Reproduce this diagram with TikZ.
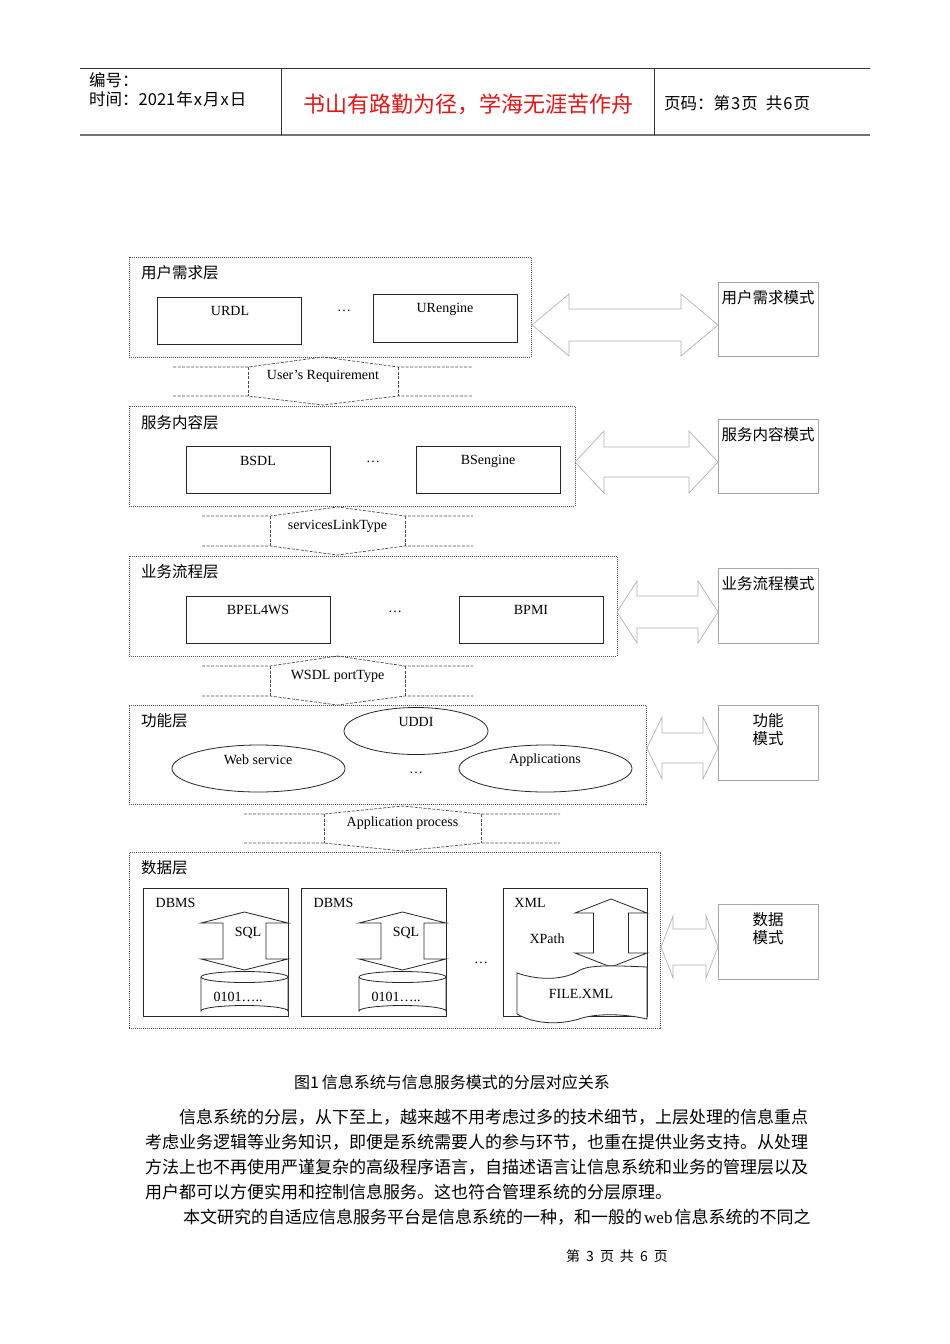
\documentclass[tikz,border=0pt]{standalone}
\usepackage{fontspec}
\setmainfont{Liberation Serif}
\newfontfamily\cjk{Noto Sans CJK SC}
\usetikzlibrary{shapes.geometric}
\newcommand\fsz[1]{\fontsize{#1}{#1}\selectfont}
% double arrow: xl xr yc headlen headhalf shafthalf
\newcommand\dblarr[6]{%
  \draw[bigarrow] (#1,#3) -- ({#1+#4},{#3-#5}) -- ({#1+#4},{#3-#6}) -- ({#2-#4},{#3-#6}) -- ({#2-#4},{#3-#5}) -- (#2,#3)
   -- ({#2-#4},{#3+#5}) -- ({#2-#4},{#3+#6}) -- ({#1+#4},{#3+#6}) -- ({#1+#4},{#3+#5}) -- cycle;}
% link shape: x1 xa xb x2 ytop ybot peak dip text
\newcommand\linkshape[9]{%
  \draw[link] (#1,#5) -- (#2,#5) -- ({(#2+#3)/2},#7) -- (#3,#5) -- (#4,#5);
  \draw[link] (#1,#6) -- (#2,#6) -- ({(#2+#3)/2},#8) -- (#3,#6) -- (#4,#6);
  \draw[link] (#2,#5) -- (#2,#6) (#3,#5) -- (#3,#6);
  \node[lat] at ({(#2+#3)/2},{(#5+#6)/2-5}) {#9};}
% up-down arrow: cx ytop ybase1 ybase2 ybot headhalf shafthalf
\newcommand\updown[7]{%
  \draw[solid box, fill=white] (#1,#2) -- ({#1+#6},#3) -- ({#1+#7},#3) -- ({#1+#7},#4) -- ({#1+#6},#4) -- (#1,#5)
   -- ({#1-#6},#4) -- ({#1-#7},#4) -- ({#1-#7},#3) -- ({#1-#6},#3) -- cycle;}
% cylinder: xl xr ytop ybot ry
\newcommand\cyl[5]{%
  \draw[solid box, fill=white] (#1,#3) -- (#1,#4) arc[start angle=180,end angle=360,x radius={(#2-#1)/2},y radius=#5] -- (#2,#3);
  \draw[solid box, fill=white] ({(#1+#2)/2},#3) ellipse [x radius={(#2-#1)/2}, y radius=#5];}
\tikzset{
  layer/.style={draw=black!70, line width=0.9pt, dash pattern=on 1pt off 1pt, inner sep=0pt, outer sep=0pt},
  solid box/.style={draw=black!85, line width=0.8pt},
  inbox/.style={solid box, inner sep=0pt, outer sep=0pt},
  modebox/.style={draw=black!35, line width=0.8pt, inner sep=0pt, outer sep=0pt},
  bigarrow/.style={draw=black!30, line width=0.7pt},
  link/.style={draw=black!70, line width=0.7pt, dash pattern=on 3pt off 1.5pt},
  lat/.style={font=\fsz{14}, inner sep=0pt},
  zh/.style={font=\cjk\fsz{15.5}, inner sep=0pt},
  zhtwo/.style={font=\cjk\fontsize{15.5}{18}\selectfont, inner sep=0pt, align=center},
  ell/.style={ellipse, solid box, inner sep=0pt, outer sep=0pt},
  hdr/.style={font=\cjk\fsz{16.5}, anchor=west, inner sep=0pt},
}
\begin{document}
\begin{tikzpicture}[x=1pt,y=-1pt]
\useasboundingbox[fill=white] (0,0) rectangle (950,1344);

% ---------- header ----------
\draw[black!80, line width=1pt] (80,68) -- (870,68);
\draw[black!55, line width=2pt] (80,135) -- (870,135);
\draw[black!80, line width=1pt] (281,68) -- (281,135) (654,68) -- (654,135);
\node[hdr] (hno) at (89,80) {编号：};
\node[hdr] (htime) at (89,99) {时间：2021\hspace{1pt}年\hspace{1pt}x\hspace{1pt}月\hspace{1pt}x\hspace{1pt}日};
\node[font=\cjk\fsz{22}, text={rgb,255:red,228;green,20;blue,20}, inner sep=0pt] (hmotto) at (468,104) {书山有路勤为径，学海无涯苦作舟};
\node[hdr] (hpage) at (664,103) {页码：第\hspace{1pt}3\hspace{1pt}页\hspace{8pt}共\hspace{1pt}6\hspace{1pt}页};

% ---------- layer 1 ----------
\node[layer, minimum width=402pt, minimum height=100pt] (L1) at (330,307) {};
\node[zh, anchor=west] at (141,273) {用户需求层};
\node[inbox, minimum width=144pt, minimum height=47pt] (urdl) at (229.5,320.5) {};
\node[lat] at (230,311) {URDL};
\node[lat] at (344,311) {…};
\node[inbox, minimum width=144pt, minimum height=48pt] (ureng) at (445,318) {};
\node[lat] at (445,309) {URengine};
\node[modebox, minimum width=100pt, minimum height=74pt] (M1) at (768,319) {};
\node[zh] at (768,298) {用户需求模式};
\dblarr{532}{718}{325}{37}{31}{16}

\linkshape{173}{248}{398}{473}{367}{396}{357}{405}{User’s Requirement}

% ---------- layer 2 ----------
\node[layer, minimum width=446pt, minimum height=100pt] (L2) at (352,456) {};
\node[zh, anchor=west] at (141,423) {服务内容层};
\node[inbox, minimum width=144pt, minimum height=47pt] (bsdl) at (258,469.5) {};
\node[lat] at (258,461) {BSDL};
\node[lat] at (373,462) {…};
\node[inbox, minimum width=144pt, minimum height=47pt] (bseng) at (488,469.5) {};
\node[lat] at (488,461) {BSengine};
\node[modebox, minimum width=100pt, minimum height=74pt] (M2) at (768,456) {};
\node[zh] at (768,435) {服务内容模式};
\dblarr{575}{718}{462}{29}{31}{15}

\linkshape{202}{270}{405}{473}{516}{546}{507}{555}{servicesLinkType}

% ---------- layer 3 ----------
\node[layer, minimum width=488pt, minimum height=100pt] (L3) at (373,606) {};
\node[zh, anchor=west] at (141,572) {业务流程层};
\node[inbox, minimum width=144pt, minimum height=47pt] (bpel) at (258,619.5) {};
\node[lat] at (258,610) {BPEL4WS};
\node[lat] at (395,612) {…};
\node[inbox, minimum width=144pt, minimum height=47pt] (bpmi) at (531,619.5) {};
\node[lat] at (531,610) {BPMI};
\node[modebox, minimum width=100pt, minimum height=75pt] (M3) at (768,605.5) {};
\node[zh] at (768,584) {业务流程模式};
\dblarr{617}{718}{612}{20}{31}{16}

\linkshape{202}{270}{405}{473}{666}{696}{656}{705}{WSDL portType}

% ---------- layer 4 ----------
\node[layer, minimum width=517pt, minimum height=99pt] (L4) at (387.5,754.5) {};
\node[zh, anchor=west] at (141,721) {功能层};
\node[ell, minimum width=144pt, minimum height=47pt] (uddi) at (416,731) {};
\node[lat] at (416,722) {UDDI};
\node[ell, minimum width=173pt, minimum height=47pt] (ws) at (258.5,768.5) {};
\node[lat] at (258,760) {Web service};
\node[ell, minimum width=173pt, minimum height=47pt] (apps) at (545.5,768.5) {};
\node[lat] at (545,760) {Applications};
\node[lat] at (416,773) {…};
\node[modebox, minimum width=100pt, minimum height=75pt] (M4) at (768,742.5) {};
\node[zhtwo] at (768,730) {功能\\模式};
\dblarr{647}{718}{748}{15}{31}{15}

\linkshape{244}{324}{481}{560}{814}{843}{806}{851}{Application process}

% ---------- layer 5 ----------
\node[layer, minimum width=531pt, minimum height=176pt] (L5) at (394.5,940.5) {};
\node[zh, anchor=west] at (141,868) {数据层};
% DBMS 1
\node[inbox, minimum width=145pt, minimum height=128pt] (db1) at (215.5,952) {};
\node[lat] at (175.5,903) {DBMS};
\updown{244.5}{912}{923}{959}{970}{43.5}{21.5}
\node[lat] at (248,933) {SQL};
\cyl{201}{288}{977}{1011}{5.5}
\node[lat] at (238,997) {0101…..};
% DBMS 2
\node[inbox, minimum width=145pt, minimum height=128pt] (db2) at (373.5,952) {};
\node[lat] at (333.5,903) {DBMS};
\updown{402.5}{912}{923}{959}{970}{43.5}{21.5}
\node[lat] at (406,933) {SQL};
\cyl{359}{446}{977}{1011}{5.5}
\node[lat] at (396,997) {0101…..};
\node[lat] at (481,963) {…};
% XML
\node[inbox, minimum width=144pt, minimum height=128pt] (xmlbox) at (575,952) {};
\node[lat] at (530,903) {XML};
\updown{611}{899}{913}{953}{967}{36}{17.5}
\node[lat] at (547,939) {XPath};
\draw[solid box, fill=white] (517,973) .. controls (540,981) and (565,980) .. (580,970)
  .. controls (592,964) and (622,966) .. (647,967) -- (647,1019)
  .. controls (625,1014) and (600,1013) .. (582,1018)
  .. controls (565,1024) and (538,1026) .. (517,1014) -- cycle;
\node[lat] at (581,994) {FILE.XML};
\node[modebox, minimum width=100pt, minimum height=75pt] (M5) at (768,941.5) {};
\node[zhtwo] at (768,929) {数据\\模式};
\dblarr{661}{718}{947}{12}{31}{18}

% ---------- caption & text ----------
\node[font=\cjk\fsz{16}, inner sep=0pt] (cap) at (452,1082) {图1\hspace{3pt}信息系统与信息服务模式的分层对应关系};
\begin{scope}[every node/.style={font=\cjk\fsz{17}, anchor=west, inner sep=0pt}]
\node (p1) at (179,1117) {信息系统的分层，从下至上，越来越不用考虑过多的技术细节，上层处理的信息重点};
\node (p2) at (145,1142) {考虑业务逻辑等业务知识，即便是系统需要人的参与环节，也重在提供业务支持。从处理};
\node (p3) at (145,1167) {方法上也不再使用严谨复杂的高级程序语言，自描述语言让信息系统和业务的管理层以及};
\node (p4) at (145,1192) {用户都可以方便实用和控制信息服务。这也符合管理系统的分层原理。};
\node (p5) at (183,1217) {本文研究的自适应信息服务平台是信息系统的一种，和一般的\hspace{2pt}{\rmfamily web}\hspace{2pt}信息系统的不同之};
\end{scope}
\node[font=\cjk\fsz{14}, inner sep=0pt] (foot) at (617,1256) {第\hspace{6pt}3\hspace{6pt}页\hspace{6pt}共\hspace{6pt}6\hspace{6pt}页};
\end{tikzpicture}
\end{document}
